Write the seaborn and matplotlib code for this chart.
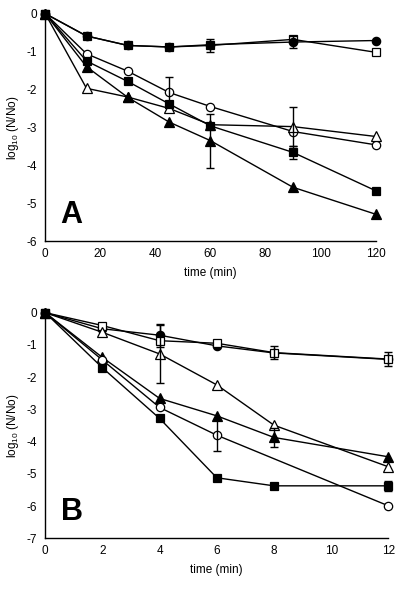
import numpy as np
import pandas as pd
import seaborn as sns
import matplotlib
matplotlib.use("Agg")
import matplotlib.pyplot as plt

nan = np.nan

# panel A (0-120 min)
a_time = [0, 15, 30, 45, 60, 90, 120]
a_open_sq = [0, -0.59, -0.84, -0.88, -0.84, -0.68, -1.02]
a_fill_circ = [0, -0.59, -0.84, -0.88, -0.82, -0.75, -0.71]
a_open_circ = [0, -1.06, -1.52, -2.08, -2.45, -3.11, -3.46]
a_open_tri = [0, -1.97, -2.20, -2.50, -2.93, -2.98, -3.24]
a_fill_sq = [0, -1.25, -1.79, -2.38, -2.96, -3.66, -4.67]
a_fill_tri = [0, -1.40, -2.21, -2.86, -3.35, -4.58, -5.29]

a_err_open_sq = [nan, nan, nan, nan, 0.18, nan, nan]
a_err_fill_circ = [nan, nan, nan, nan, nan, 0.15, nan]
a_err_open_circ = [nan, nan, nan, 0.40, nan, nan, nan]
a_err_open_tri = [nan, nan, nan, nan, nan, 0.52, nan]
a_err_fill_sq = [nan, nan, nan, nan, nan, 0.18, nan]
a_err_fill_tri = [nan, nan, nan, nan, 0.71, nan, nan]

# panel B (0-12 min)
b_time = [0, 2, 4, 6, 8, 12]
b_open_sq = [0, -0.40, -0.87, -0.95, -1.24, -1.44]
b_fill_circ = [0, -0.50, -0.70, -1.03, -1.25, -1.45]
b_open_tri = [0, -0.61, -1.28, -2.24, -3.49, -4.78]
b_fill_tri = [0, -1.39, -2.66, -3.20, -3.87, -4.47]
b_open_circ = [0, -1.47, -2.94, -3.80, nan, -5.99]
b_fill_sq = [0, -1.71, -3.28, -5.12, -5.37, -5.37]

b_err_open_sq = [nan, nan, nan, nan, 0.21, 0.22]
b_err_fill_circ = [nan, nan, 0.35, nan, nan, nan]
b_err_open_tri = [nan, nan, 0.90, nan, nan, nan]
b_err_fill_tri = [nan, nan, nan, nan, 0.30, nan]
b_err_open_circ = [nan, nan, nan, 0.50, nan, nan]
b_err_fill_sq = [nan, nan, nan, nan, nan, 0.15]


def draw_series(ax, t, y, err, marker, filled):
    df = pd.DataFrame({"t": t, "y": y, "e": err}).dropna(subset=["y"])
    sns.lineplot(data=df, x="t", y="y", ax=ax, color="black", linewidth=1.0,
                 marker=marker, markersize=6 if marker != "^" else 6.5,
                 markerfacecolor="black" if filled else "white",
                 markeredgecolor="black", markeredgewidth=0.9,
                 errorbar=None, clip_on=False)
    de = df.dropna(subset=["e"])
    if len(de):
        ax.errorbar(de["t"], de["y"], yerr=de["e"], fmt="none", ecolor="black",
                    elinewidth=1.0, capsize=3, capthick=1.0, clip_on=False)


def style_axes(ax, xticks, ylim, letter):
    ax.set_xlim(xticks[0], xticks[-1])
    ax.set_ylim(ylim, 0)
    ax.set_xticks(xticks)
    ax.set_yticks(np.arange(ylim, 1, 1))
    ax.set_yticklabels([str(int(v)) for v in np.arange(ylim, 1, 1)])
    sns.despine(ax=ax)
    for side in ("left", "bottom"):
        ax.spines[side].set_linewidth(1.0)
        ax.spines[side].set_color("black")
    ax.tick_params(axis="x", direction="inout", length=6, width=1.0, labelsize=8.5,
                   pad=2, color="black", labelcolor="black")
    ax.tick_params(axis="y", direction="in", length=4, width=1.0, labelsize=8.5,
                   pad=6, color="black", labelcolor="black")
    ax.set_xlabel("time (min)", fontsize=8.5, labelpad=5, color="black")
    ax.set_ylabel("log$_{10}$ (N/No)", fontsize=8.5, labelpad=4, color="black")
    ax.text(0.045, 0.05, letter, transform=ax.transAxes, fontsize=22,
            fontweight="bold", ha="left", va="bottom", color="black")


sns.set_style("white")
plt.rcParams["font.family"] = ["Liberation Sans", "DejaVu Sans"]
plt.rcParams["mathtext.fontset"] = "custom"
plt.rcParams["mathtext.rm"] = "Liberation Sans"

fig = plt.figure(figsize=(4.0, 5.91), dpi=100)
ax_a = fig.add_axes([0.113, 0.592, 0.826, 0.385])
ax_b = fig.add_axes([0.113, 0.089, 0.858, 0.382])

draw_series(ax_a, a_time, a_open_sq, a_err_open_sq, "s", False)
draw_series(ax_a, a_time, a_fill_circ, a_err_fill_circ, "o", True)
draw_series(ax_a, a_time, a_open_circ, a_err_open_circ, "o", False)
draw_series(ax_a, a_time, a_open_tri, a_err_open_tri, "^", False)
draw_series(ax_a, a_time, a_fill_tri, a_err_fill_tri, "^", True)
draw_series(ax_a, a_time, a_fill_sq, a_err_fill_sq, "s", True)
style_axes(ax_a, [0, 20, 40, 60, 80, 100, 120], -6, "A")

draw_series(ax_b, b_time, b_fill_circ, b_err_fill_circ, "o", True)
draw_series(ax_b, b_time, b_open_sq, b_err_open_sq, "s", False)
draw_series(ax_b, b_time, b_open_tri, b_err_open_tri, "^", False)
draw_series(ax_b, b_time, b_fill_tri, b_err_fill_tri, "^", True)
draw_series(ax_b, b_time, b_open_circ, b_err_open_circ, "o", False)
draw_series(ax_b, b_time, b_fill_sq, b_err_fill_sq, "s", True)
style_axes(ax_b, [0, 2, 4, 6, 8, 10, 12], -7, "B")

fig.savefig("out.png", dpi=100)
